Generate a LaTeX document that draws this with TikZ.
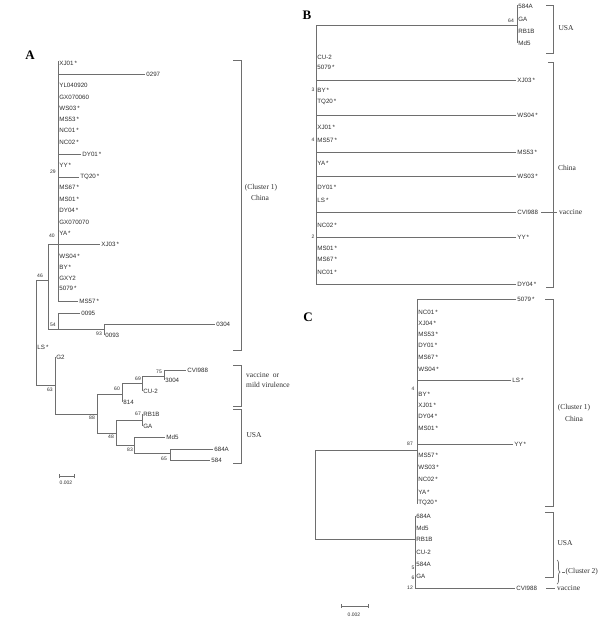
\documentclass[tikz,border=0pt]{standalone}
\usepackage{fontspec}
\setmainfont{Liberation Serif}
\setsansfont{Liberation Sans}
\usetikzlibrary{decorations.pathreplacing}
\definecolor{lc}{RGB}{110,110,110}
\definecolor{tc}{RGB}{45,45,45}
\begin{document}
\begin{tikzpicture}[x=1pt,y=-1pt,
 br/.style={draw=lc,line width=0.7pt},
 bk/.style={draw=lc,line width=0.7pt},
 lf/.style={anchor=west,inner sep=1.2pt,font=\sffamily\fontsize{6.2}{7}\selectfont,text=tc},
 sv/.style={inner sep=0pt,font=\sffamily\fontsize{5}{6}\selectfont,text=tc},
 cl/.style={inner sep=0pt,font=\fontsize{7.5}{9}\selectfont,text=tc},
 pl/.style={inner sep=0pt,font=\bfseries\fontsize{13}{15}\selectfont}]
\useasboundingbox[fill=white] (0,0) rectangle (600,629);

% ================= Panel A =================
\node[pl] (pA) at (30,55) {A};
\coordinate (a1) at (58,61);
\coordinate (a2) at (58,301);
\foreach \n/\y/\t in {XJ01/63/XJ01\,*, YL/85/YL040920, GX60/97/GX070060, WS03/108/WS03\,*,
  MS53/119/MS53\,*, NC01/130/NC01\,*, NC02/142/NC02\,*, YY/165/YY\,*, MS67/187/MS67\,*,
  MS01/199/MS01\,*, DY04/210/DY04\,*, GX70/222/GX070070, YA/233/YA\,*, WS04/256/WS04\,*,
  BY/267/BY\,*, GXY2/278/GXY2, 5079/288/5079\,*}
  \node[lf] (A\n) at (58,\y) {\t};
\node[lf] (A0297) at (145,74) {0297};
\node[lf] (ADY01) at (81,154) {DY01\,*};
\node[lf] (ATQ20) at (79,177) {TQ20\,*};
\node[lf] (AXJ03) at (100,244) {XJ03\,*};
\node[lf] (AMS57) at (78,301) {MS57\,*};
\draw[br] (a1) -- (a2);
\foreach \n in {0297,DY01,TQ20} \draw[br] (A\n.west) -- (A\n.west -| a1);
\draw[br] (AMS57.west) -- (a2);

\coordinate (n40) at (48,244);
\coordinate (n54) at (48,329);
\coordinate (n46) at (36,280);
\coordinate (n46b) at (36,385);
\coordinate (n54a) at (58,313);
\coordinate (n54b) at (58,329);
\coordinate (n93) at (104,329);
\coordinate (n93a) at (104,324);
\coordinate (n93b) at (104,335);
\coordinate (n63) at (55,385);
\coordinate (n63a) at (55,357);
\coordinate (n63b) at (55,414);
\coordinate (n88) at (97,414);
\coordinate (n88a) at (97,394);
\coordinate (n88b) at (97,433);
\coordinate (n60) at (122,394);
\coordinate (n60a) at (122,383);
\coordinate (n60b) at (122,402);
\coordinate (n69) at (142,383);
\coordinate (n69a) at (142,376);
\coordinate (n69b) at (142,391);
\coordinate (n75) at (164,376);
\coordinate (n75a) at (164,370);
\coordinate (n75b) at (164,380);
\coordinate (n48) at (116,433);
\coordinate (n48a) at (116,420);
\coordinate (n48b) at (116,445);
\coordinate (n67) at (142,420);
\coordinate (n67a) at (142,414);
\coordinate (n67b) at (142,426);
\coordinate (n83) at (134,445);
\coordinate (n83a) at (134,437);
\coordinate (n83b) at (134,453);
\coordinate (n65) at (170,453);
\coordinate (n65a) at (170,449);
\coordinate (n65b) at (170,460);

\node[lf] (A0095) at (80,313) {0095};
\node[lf] (A0304) at (215,324) {0304};
\node[lf] (A0093) at (104,335) {0093};
\node[lf] (ALS) at (36,347) {LS\,*};
\node[lf] (AG2) at (55,357) {G2};
\node[lf] (A814) at (122,402) {814};
\node[lf] (ACU2) at (142,391) {CU-2};
\node[lf] (ACVI) at (186,370) {CVI988};
\node[lf] (A3004) at (164,380) {3004};
\node[lf] (ARB1B) at (142,414) {RB1B};
\node[lf] (AGA) at (142,426) {GA};
\node[lf] (AMd5) at (165,437) {Md5};
\node[lf] (A684A) at (213,449) {684A};
\node[lf] (A584) at (210,460) {584};

\draw[br] (n40) -- (AXJ03.west);
\draw[br] (n40) -- (n54);
\draw[br] (n46) -- (n46 -| n40);
\draw[br] (n54) -- (n93);
\draw[br] (n54a) -- (n54b);
\draw[br] (n54a) -- (A0095.west);
\draw[br] (n93a) -- (n93b);
\draw[br] (n93a) -- (A0304.west);
\draw[br] (n46) -- (n46b) -- (n63);
\draw[br] (n63a) -- (n63b) -- (n88);
\draw[br] (n88a) -- (n88b);
\draw[br] (n88a) -- (n60);
\draw[br] (n60a) -- (n60b);
\draw[br] (n60a) -- (n69);
\draw[br] (n69a) -- (n69b);
\draw[br] (n69a) -- (n75);
\draw[br] (n75a) -- (n75b);
\draw[br] (n75a) -- (ACVI.west);
\draw[br] (n88b) -- (n48);
\draw[br] (n48a) -- (n48b);
\draw[br] (n48a) -- (n67);
\draw[br] (n67a) -- (n67b);
\draw[br] (n48b) -- (n83);
\draw[br] (n83a) -- (n83b);
\draw[br] (n83a) -- (AMd5.west);
\draw[br] (n83b) -- (n65);
\draw[br] (n65a) -- (n65b);
\draw[br] (n65a) -- (A684A.west);
\draw[br] (n65b) -- (A584.west);

\foreach \v/\x/\y in {29/53/172, 40/52/236, 46/40/276, 54/53/325, 93/99/334, 63/50/390,
  88/92/418, 60/117/389, 69/138/379, 75/159/372, 48/111/437, 67/138/414, 83/130/450, 65/164/459}
  \node[sv] (sA\v) at (\x,\y) {\v};

% brackets A
\draw[bk] (233,60) -| (241,350) -- (233,350);
\draw[bk] (233,365) -| (241,406) -- (233,406);
\draw[bk] (233,409) -| (241,463) -- (233,463);
\node[cl] (cA1) at (261,188) {(Cluster 1)};
\node[cl] (cA2) at (260,198) {China};
\node[cl,anchor=west] (cA3) at (246,375) {vaccine\ \ or};
\node[cl,anchor=west] (cA4) at (246,385) {mild virulence};
\node[cl] (cA5) at (254,435) {USA};

% scale A
\coordinate (sa1) at (59,476);
\coordinate (sa2) at (74,476);
\draw[br,line width=0.5pt] ([yshift=-2pt]sa1) -- ([yshift=2pt]sa1);
\draw[br,line width=0.5pt] ([yshift=-2pt]sa2) -- ([yshift=2pt]sa2);
\draw[br,line width=0.5pt] (sa1) -- (sa2);
\node[sv] (scA) at (66,483) {0.002};

% ================= Panel B =================
\node[pl] (pB) at (307,15) {B};
\coordinate (b1) at (316,25);
\coordinate (b2) at (316,284);
\draw[br] (b1) -- (b2);
\foreach \n/\y/\t in {CU2/57/CU-2, 5079/67/5079\,*, BY/90/BY\,*, TQ20/102/TQ20\,*,
  XJ01/127/XJ01\,*, MS57/140/MS57\,*, YA/163/YA\,*, DY01/187/DY01\,*, LS/200/LS\,*,
  NC02/225/NC02\,*, MS01/248/MS01\,*, MS67/259/MS67\,*, NC01/272/NC01\,*}
  \node[lf] (B\n) at (316,\y) {\t};
\foreach \n/\y/\t in {XJ03/80/XJ03\,*, WS04/115/WS04\,*, MS53/152/MS53\,*, WS03/176/WS03\,*,
  CVI/212/CVI988, YY/237/YY\,*, DY04/284/DY04\,*}
  {\node[lf] (B\n) at (516,\y) {\t};
   \draw[br] (B\n.west) -- (B\n.west -| b1);}
\coordinate (bu) at (517,25);
\coordinate (bu1) at (517,5);
\coordinate (bu2) at (517,43);
\draw[br] (b1) -- (bu);
\draw[br] (bu1) -- (bu2);
\foreach \n/\y/\t in {584A/6/584A, GA/19/GA, RB1B/31/RB1B, Md5/43/Md5}
  \node[lf] (B\n) at (517,\y) {\t};
\node[sv] (sB64) at (511,21) {64};
\node[sv] (sB3) at (313,90) {3};
\node[sv] (sB4) at (313,140) {4};
\node[sv] (sB2) at (313,237) {2};

\draw[bk] (546,5) -| (553,53) -- (546,53);
\draw[bk] (548,62) -| (553,287) -- (546,287);
\node[cl] (cB1) at (566,28) {USA};
\node[cl] (cB2) at (567,168) {China};
\draw[bk] (541,212) -- (557,212);
\node[cl,anchor=west] (cB3) at (559,212) {vaccine};

% ================= Panel C =================
\node[pl] (pC) at (308,317) {C};
\coordinate (c0a) at (315,450);
\coordinate (c0b) at (315,539);
\coordinate (c1) at (417,299);
\coordinate (c1m) at (417,450);
\coordinate (c2) at (417,504);
\coordinate (c3) at (415,516);
\coordinate (c3m) at (415,539);
\coordinate (c4) at (415,588);
\draw[br] (c1m) -- (c0a) -- (c0b) -- (c3m);
\draw[br] (c1) -- (c2);
\draw[br] (c3) -- (c4);
\foreach \n/\y/\t in {NC01/312/NC01\,*, XJ04/323/XJ04\,*, MS53/334/MS53\,*, DY01/345/DY01\,*,
  MS67/357/MS67\,*, WS04/369/WS04\,*, BY/394/BY\,*, XJ01/405/XJ01\,*, DY04/416/DY04\,*,
  MS01/428/MS01\,*, MS57/455/MS57\,*, WS03/467/WS03\,*, NC02/479/NC02\,*, YA/492/YA\,*,
  TQ20/503/TQ20\,*}
  \node[lf] (C\n) at (417,\y) {\t};
\node[lf] (C5079) at (516,299) {5079\,*};
\node[lf] (CLS) at (511,380) {LS\,*};
\node[lf] (CYY) at (513,444) {YY\,*};
\foreach \n in {5079,LS,YY} \draw[br] (C\n.west) -- (C\n.west -| c1);
\foreach \n/\y/\t in {684A/516/684A, Md5/528/Md5, RB1B/539/RB1B, CU2/552/CU-2, 584A/564/584A, GA/576/GA}
  \node[lf] (C\n) at (415,\y) {\t};
\node[lf] (CCVI) at (515,588) {CVI988};
\draw[br] (c4) -- (CCVI.west);
\node[sv] (sC4) at (413,389) {4};
\node[sv] (sC87) at (410,444) {87};
\node[sv] (sC5) at (413,568) {5};
\node[sv] (sC6) at (413,578) {6};
\node[sv] (sC12) at (410,588) {12};

\draw[bk] (545,299) -| (553,506) -- (545,506);
\draw[bk] (545,512) -| (553,577) -- (545,577);
\node[cl] (cC1) at (574,408) {(Cluster 1)};
\node[cl] (cC2) at (574,419) {China};
\node[cl] (cC3) at (565,543) {USA};
\draw[bk,decorate,decoration={brace,amplitude=3pt}] (557,560) -- (557,584);
\draw[bk] (562,572) -- (565,572);
\node[cl,anchor=west] (cC4) at (565.5,572) {(Cluster 2)};
\draw[bk] (546,588) -- (555,588);
\node[cl,anchor=west] (cC5) at (557,588) {vaccine};

% scale C
\coordinate (sc1) at (341,606);
\coordinate (sc2) at (368,606);
\draw[br,line width=0.5pt] ([yshift=-2pt]sc1) -- ([yshift=2pt]sc1);
\draw[br,line width=0.5pt] ([yshift=-2pt]sc2) -- ([yshift=2pt]sc2);
\draw[br,line width=0.5pt] (sc1) -- (sc2);
\node[sv] (scC) at (354,615) {0.002};
\end{tikzpicture}
\end{document}
